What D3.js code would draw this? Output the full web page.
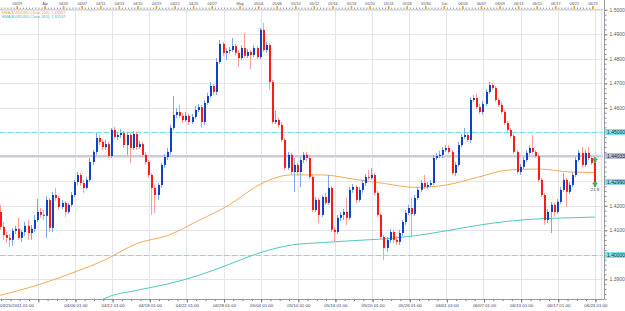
<!DOCTYPE html>
<html>
<head>
<meta charset="utf-8">
<title>EUR/USD H8</title>
<script src="https://cdn.jsdelivr.net/npm/d3@7/dist/d3.min.js"></script>
<style>
  body { margin: 0; background: #fff; }
  svg { display: block; font-family: "Liberation Sans", Arial, sans-serif; }
</style>
</head>
<body>
<svg id="chart" width="625" height="311"></svg>
<script>
// EUR/USD 8h bars. bar 0 = 03/23 01:00, first visible bar is 6 (03/25 01:00)
const firstBar = 6;

const opens = [
  1.4175, 1.4114, 1.4081, 1.4069, 1.4061, 1.4098, 1.4106, 1.4069, 1.4093, 1.4118,
  1.4089, 1.4106, 1.4142, 1.4175, 1.4163, 1.4159, 1.4224, 1.4110, 1.4244, 1.4232,
  1.4195, 1.4212, 1.4175, 1.4204, 1.4244, 1.4297, 1.4326, 1.4293, 1.4273, 1.4306,
  1.4379, 1.4420, 1.4477, 1.4461, 1.4440, 1.4452, 1.4403, 1.4510, 1.4481, 1.4489,
  1.4497, 1.4448, 1.4489, 1.4436, 1.4493, 1.4440, 1.4452, 1.4408, 1.4379, 1.4326,
  1.4273, 1.4244, 1.4285, 1.4367, 1.4399, 1.4420, 1.4518, 1.4571, 1.4583, 1.4567,
  1.4550, 1.4567, 1.4542, 1.4563, 1.4591, 1.4603, 1.4542, 1.4620, 1.4648, 1.4689,
  1.4665, 1.4787, 1.4861, 1.4824, 1.4832, 1.4836, 1.4852, 1.4824, 1.4803, 1.4844,
  1.4812, 1.4828, 1.4816, 1.4844, 1.4807, 1.4918, 1.4836, 1.4856, 1.4705, 1.4542,
  1.4550, 1.4530, 1.4469, 1.4355, 1.4408, 1.4338, 1.4367, 1.4338, 1.4387, 1.4408,
  1.4395, 1.4318, 1.4183, 1.4224, 1.4163, 1.4236, 1.4212, 1.4273, 1.4102, 1.4093,
  1.4151, 1.4163, 1.4175, 1.4151, 1.4265, 1.4277, 1.4224, 1.4265, 1.4293, 1.4318,
  1.4314, 1.4326, 1.4253, 1.4163, 1.4073, 1.4028, 1.4061, 1.4093, 1.4061, 1.4053,
  1.4089, 1.4134, 1.4171, 1.4191, 1.4167, 1.4232, 1.4265, 1.4293, 1.4277, 1.4285,
  1.4293, 1.4395, 1.4403, 1.4408, 1.4428, 1.4436, 1.4420, 1.4334, 1.4367, 1.4448,
  1.4481, 1.4489, 1.4469, 1.4632, 1.4640, 1.4603, 1.4583, 1.4616, 1.4665, 1.4693,
  1.4681, 1.4632, 1.4612, 1.4583, 1.4538, 1.4510, 1.4485, 1.4420, 1.4338, 1.4359,
  1.4387, 1.4416, 1.4436, 1.4420, 1.4403, 1.4306, 1.4244, 1.4142, 1.4175, 1.4204,
  1.4175, 1.4216, 1.4265, 1.4306, 1.4257, 1.4285, 1.4326, 1.4387, 1.4416, 1.4367,
  1.4416, 1.4395, 1.4375
];
const highs = [
  1.4204, 1.4134, 1.4093, 1.4085, 1.4110, 1.4118, 1.4151, 1.4102, 1.4134, 1.4142,
  1.4122, 1.4163, 1.4228, 1.4191, 1.4183, 1.4240, 1.4232, 1.4257, 1.4273, 1.4240,
  1.4224, 1.4220, 1.4212, 1.4257, 1.4306, 1.4338, 1.4334, 1.4306, 1.4318, 1.4395,
  1.4428, 1.4497, 1.4489, 1.4473, 1.4469, 1.4461, 1.4518, 1.4522, 1.4501, 1.4514,
  1.4505, 1.4501, 1.4497, 1.4505, 1.4501, 1.4465, 1.4461, 1.4420, 1.4387, 1.4334,
  1.4285, 1.4293, 1.4375, 1.4412, 1.4436, 1.4530, 1.4648, 1.4599, 1.4612, 1.4579,
  1.4583, 1.4575, 1.4575, 1.4608, 1.4616, 1.4612, 1.4632, 1.4661, 1.4705, 1.4697,
  1.4803, 1.4877, 1.4869, 1.4844, 1.4848, 1.4885, 1.4861, 1.4836, 1.4856, 1.4905,
  1.4840, 1.4836, 1.4856, 1.4852, 1.4926, 1.4946, 1.4869, 1.4865, 1.4714, 1.4591,
  1.4559, 1.4542, 1.4477, 1.4420, 1.4416, 1.4395, 1.4375, 1.4399, 1.4420, 1.4420,
  1.4408, 1.4326, 1.4236, 1.4232, 1.4244, 1.4253, 1.4326, 1.4281, 1.4114, 1.4163,
  1.4175, 1.4187, 1.4232, 1.4277, 1.4289, 1.4285, 1.4277, 1.4306, 1.4330, 1.4346,
  1.4355, 1.4334, 1.4261, 1.4171, 1.4081, 1.4073, 1.4106, 1.4102, 1.4077, 1.4102,
  1.4142, 1.4183, 1.4204, 1.4232, 1.4244, 1.4277, 1.4306, 1.4326, 1.4297, 1.4306,
  1.4408, 1.4416, 1.4424, 1.4440, 1.4448, 1.4448, 1.4428, 1.4379, 1.4461, 1.4493,
  1.4518, 1.4497, 1.4644, 1.4652, 1.4657, 1.4616, 1.4628, 1.4677, 1.4705, 1.4701,
  1.4689, 1.4640, 1.4624, 1.4591, 1.4546, 1.4518, 1.4493, 1.4428, 1.4371, 1.4399,
  1.4428, 1.4448, 1.4489, 1.4428, 1.4412, 1.4314, 1.4253, 1.4187, 1.4216, 1.4212,
  1.4228, 1.4277, 1.4334, 1.4314, 1.4297, 1.4338, 1.4399, 1.4428, 1.4440, 1.4428,
  1.4440, 1.4408, 1.4387
];
const lows = [
  1.4102, 1.4061, 1.4049, 1.4032, 1.4036, 1.4085, 1.4061, 1.4053, 1.4077, 1.4061,
  1.4061, 1.4093, 1.4134, 1.4151, 1.4142, 1.4069, 1.4093, 1.4093, 1.4220, 1.4183,
  1.4187, 1.4155, 1.4167, 1.4195, 1.4236, 1.4285, 1.4281, 1.4253, 1.4265, 1.4297,
  1.4367, 1.4408, 1.4448, 1.4428, 1.4428, 1.4395, 1.4395, 1.4473, 1.4469, 1.4477,
  1.4436, 1.4408, 1.4375, 1.4428, 1.4428, 1.4432, 1.4399, 1.4367, 1.4314, 1.4163,
  1.4171, 1.4224, 1.4273, 1.4355, 1.4387, 1.4408, 1.4510, 1.4559, 1.4559, 1.4538,
  1.4542, 1.4530, 1.4534, 1.4554, 1.4583, 1.4518, 1.4530, 1.4612, 1.4640, 1.4652,
  1.4652, 1.4779, 1.4812, 1.4795, 1.4820, 1.4828, 1.4812, 1.4767, 1.4795, 1.4803,
  1.4803, 1.4758, 1.4807, 1.4799, 1.4799, 1.4828, 1.4824, 1.4673, 1.4534, 1.4534,
  1.4518, 1.4461, 1.4346, 1.4346, 1.4326, 1.4257, 1.4326, 1.4277, 1.4375, 1.4383,
  1.4310, 1.4175, 1.4175, 1.4130, 1.4155, 1.4204, 1.4204, 1.4093, 1.4053, 1.4085,
  1.4138, 1.4142, 1.4122, 1.4142, 1.4253, 1.4212, 1.4216, 1.4253, 1.4281, 1.4306,
  1.4306, 1.4244, 1.4155, 1.4065, 1.3979, 1.4012, 1.4049, 1.4049, 1.4040, 1.4040,
  1.4077, 1.4122, 1.4163, 1.4073, 1.4159, 1.4224, 1.4257, 1.4269, 1.4269, 1.4277,
  1.4285, 1.4387, 1.4395, 1.4395, 1.4420, 1.4412, 1.4326, 1.4322, 1.4359, 1.4440,
  1.4473, 1.4461, 1.4457, 1.4624, 1.4595, 1.4575, 1.4571, 1.4608, 1.4657, 1.4673,
  1.4624, 1.4603, 1.4575, 1.4530, 1.4501, 1.4477, 1.4412, 1.4330, 1.4326, 1.4350,
  1.4379, 1.4408, 1.4412, 1.4395, 1.4297, 1.4236, 1.4122, 1.4130, 1.4089, 1.4155,
  1.4167, 1.4208, 1.4257, 1.4195, 1.4248, 1.4277, 1.4318, 1.4379, 1.4359, 1.4359,
  1.4387, 1.4367, 1.4289
];
const closes = [
  1.4114, 1.4081, 1.4069, 1.4061, 1.4098, 1.4106, 1.4069, 1.4093, 1.4118, 1.4089,
  1.4106, 1.4142, 1.4175, 1.4163, 1.4159, 1.4224, 1.4110, 1.4244, 1.4232, 1.4195,
  1.4212, 1.4175, 1.4204, 1.4244, 1.4297, 1.4326, 1.4293, 1.4273, 1.4306, 1.4379,
  1.4420, 1.4477, 1.4461, 1.4440, 1.4452, 1.4403, 1.4510, 1.4481, 1.4489, 1.4497,
  1.4448, 1.4489, 1.4436, 1.4493, 1.4440, 1.4452, 1.4408, 1.4379, 1.4326, 1.4273,
  1.4244, 1.4285, 1.4367, 1.4399, 1.4420, 1.4518, 1.4571, 1.4583, 1.4567, 1.4550,
  1.4567, 1.4542, 1.4563, 1.4591, 1.4603, 1.4542, 1.4620, 1.4648, 1.4689, 1.4665,
  1.4787, 1.4861, 1.4824, 1.4832, 1.4836, 1.4852, 1.4824, 1.4803, 1.4844, 1.4812,
  1.4828, 1.4816, 1.4844, 1.4807, 1.4918, 1.4836, 1.4856, 1.4705, 1.4542, 1.4550,
  1.4530, 1.4469, 1.4355, 1.4408, 1.4338, 1.4367, 1.4338, 1.4387, 1.4408, 1.4395,
  1.4318, 1.4183, 1.4224, 1.4163, 1.4236, 1.4212, 1.4273, 1.4102, 1.4093, 1.4151,
  1.4163, 1.4175, 1.4151, 1.4265, 1.4277, 1.4224, 1.4265, 1.4293, 1.4318, 1.4314,
  1.4326, 1.4253, 1.4163, 1.4073, 1.4028, 1.4061, 1.4093, 1.4061, 1.4053, 1.4089,
  1.4134, 1.4171, 1.4191, 1.4167, 1.4232, 1.4265, 1.4293, 1.4277, 1.4285, 1.4293,
  1.4395, 1.4403, 1.4408, 1.4428, 1.4436, 1.4420, 1.4334, 1.4367, 1.4448, 1.4481,
  1.4489, 1.4469, 1.4632, 1.4640, 1.4603, 1.4583, 1.4616, 1.4665, 1.4693, 1.4681,
  1.4632, 1.4612, 1.4583, 1.4538, 1.4510, 1.4485, 1.4420, 1.4338, 1.4359, 1.4387,
  1.4416, 1.4436, 1.4420, 1.4403, 1.4306, 1.4244, 1.4142, 1.4175, 1.4204, 1.4175,
  1.4216, 1.4265, 1.4306, 1.4257, 1.4285, 1.4326, 1.4387, 1.4416, 1.4367, 1.4416,
  1.4395, 1.4375, 1.4297
];

// moving averages at these bars
const ema100Bars = [5, 10, 20, 30, 40, 50, 60, 70, 80, 90, 100, 110, 120, 130, 140, 150, 160, 170, 180, 190, 198];
const ema100 = [1.3832, 1.3848, 1.3885, 1.3930, 1.3981, 1.4046, 1.4079, 1.4140, 1.4205, 1.4289, 1.4326,
  1.4326, 1.4309, 1.4291, 1.4275, 1.4285, 1.4316, 1.4346, 1.4350, 1.4338, 1.4336];
const ema365Bars = [38, 40, 50, 60, 70, 80, 90, 100, 110, 120, 130, 140, 150, 160, 170, 180, 190, 198];
const ema365 = [1.3811, 1.3824, 1.3855, 1.3881, 1.3916, 1.3962, 1.4009, 1.4040, 1.4050, 1.4058, 1.4065,
  1.4078, 1.4098, 1.4120, 1.4137, 1.4147, 1.4151, 1.4154];

const priceTicks = [1.39, 1.40, 1.41, 1.42, 1.43, 1.44, 1.45, 1.46, 1.47, 1.48, 1.49, 1.50];

const gridBars = [18, 30, 42, 54, 66, 78, 90, 102, 114, 126, 138, 150, 162, 174, 186, 198];
const bottomLabels = ["", "04/06 01:00", "04/12 01:00", "04/18 01:00", "04/22 01:00", "04/28 01:00",
  "05/04 01:00", "05/10 01:00", "05/16 01:00", "05/20 01:00", "05/26 01:00", "06/01 01:00",
  "06/07 01:00", "06/13 01:00", "06/17 01:00", "06/23 01:00"];
const firstLabel = "03/25/2011 01:00";

const topBars = [12, 21, 27, 33, 39, 45, 51, 57, 63, 69, 75, 84, 90, 96, 102, 108, 114, 120, 126,
  132, 138, 144, 150, 156, 162, 168, 174, 180, 186, 192, 198];
const topLabels = ["03/29", "Apr", "04/05", "04/07", "04/11", "04/13", "04/15", "04/19", "04/21",
  "04/25", "04/27", "May", "05/04", "05/06", "05/10", "05/12", "05/16", "05/18", "05/20", "05/24",
  "05/26", "05/30", "Jun", "06/03", "06/07", "06/09", "06/13", "06/15", "06/17", "06/21", "06/23"];

const dashedLevels = [1.45, 1.40];
const grayLevel = 1.4403;
const markerPrices = [1.45, 1.4403, 1.4299, 1.40];
const markerTexts = ["1.45000", "1.44033", "1.42990", "1.40000"];
const arrowPrices = [1.4386, 1.4288];
const timerText = "21.9";

const legendTexts = ["EMA(EUR/USD.Close,100): 1.43361", "EMA(EUR/USD.Close,365): 1.41537"];

// ---- layout
const plotL = 0, plotR = 603, plotT = 9, plotB = 299;
const svg = d3.select("#chart");

const x = d3.scaleLinear().domain([0, 198]).range([-17.9, 594.9]);
const y = d3.scaleLinear().domain([1.39, 1.50]).range([279.3, 9.8]);
const px = v => Math.round(v) + 0.5;

svg.append("rect").attr("width", 625).attr("height", 311).attr("fill", "#fff");

svg.append("defs").append("clipPath").attr("id", "plotClip")
  .append("rect").attr("x", plotL).attr("y", plotT).attr("width", plotR - plotL).attr("height", plotB - plotT);

// grid
const grid = svg.append("g").attr("stroke", "#e4e4ea").attr("stroke-width", 1);
grid.selectAll("line.h").data(priceTicks).join("line").attr("class", "h")
  .attr("x1", plotL).attr("x2", plotR)
  .attr("y1", d => px(y(d))).attr("y2", d => px(y(d)));
grid.selectAll("line.v").data(gridBars).join("line").attr("class", "v")
  .attr("x1", d => px(x(d))).attr("x2", d => px(x(d)))
  .attr("y1", plotT).attr("y2", plotB);

// level lines
svg.append("g").selectAll("line").data(dashedLevels).join("line")
  .attr("x1", plotL).attr("x2", plotR)
  .attr("y1", d => px(y(d))).attr("y2", d => px(y(d)))
  .attr("stroke", "#6fe3ea").attr("stroke-dasharray", "5,3");
svg.append("line")
  .attr("x1", plotL).attr("x2", plotR)
  .attr("y1", y(grayLevel)).attr("y2", y(grayLevel))
  .attr("stroke", "#cbcbdc").attr("stroke-width", 2);

const plot = svg.append("g").attr("clip-path", "url(#plotClip)");

// moving averages
const line = d3.line().x(d => x(d[0])).y(d => y(d[1])).curve(d3.curveMonotoneX);
plot.append("path").datum(d3.zip(ema100Bars, ema100))
  .attr("d", line).attr("fill", "none").attr("stroke", "#f6a953").attr("stroke-width", 1);
plot.append("path").datum(d3.zip(ema365Bars, ema365))
  .attr("d", line).attr("fill", "none").attr("stroke", "#4ec9c4").attr("stroke-width", 1);

// candles
const bars = closes.map((c, k) => ({ bar: firstBar + k, o: opens[k], h: highs[k], l: lows[k], c: c }));
const up = d => d.c >= d.o;

plot.selectAll("line.wick").data(bars).join("line").attr("class", "wick")
  .attr("x1", d => Math.round(x(d.bar)) - 0.5).attr("x2", d => Math.round(x(d.bar)) - 0.5)
  .attr("y1", d => y(Math.max(d.h, d.o, d.c))).attr("y2", d => y(Math.min(d.l, d.o, d.c)))
  .attr("stroke", d => up(d) ? "#7fa8e4" : "#ff9d9d");

plot.selectAll("rect.body").data(bars).join("rect").attr("class", "body")
  .attr("x", d => Math.round(x(d.bar)) - 1)
  .attr("width", 2)
  .attr("y", d => y(Math.max(d.o, d.c)))
  .attr("height", d => Math.max(1, Math.abs(y(d.o) - y(d.c))))
  .attr("fill", d => up(d) ? "#0f42c8" : "#ff1a1a");

// trade arrows + timer at the last bar
const lastBar = firstBar + closes.length - 1;
svg.append("g").selectAll("path").data(arrowPrices).join("path")
  .attr("transform", d => `translate(${Math.round(x(lastBar))},${Math.round(y(d))})`)
  .attr("d", "M0,-3 L2.5,0 L1,0 L1,2.5 L-1,2.5 L-1,0 L-2.5,0 Z")
  .attr("fill", "#45b845").attr("stroke", "#2a7a2a").attr("stroke-width", 0.4);
svg.append("text")
  .attr("x", x(lastBar)).attr("y", y(arrowPrices[1]) + 7)
  .attr("text-anchor", "middle").attr("font-size", 4.2).attr("fill", "#333")
  .text(timerText);

// legend
svg.append("g").selectAll("text").data(legendTexts).join("text")
  .attr("x", 2).attr("y", (d, i) => 13.5 + i * 4.8)
  .attr("font-size", 3.9)
  .attr("fill", (d, i) => i === 0 ? "#f0a040" : "#3cbcbc")
  .text(d => d);

// right price axis
const yAxisG = svg.append("g").attr("transform", `translate(${plotR + 1},0)`);
yAxisG.append("line").attr("x1", 0.5).attr("x2", 0.5).attr("y1", 0).attr("y2", plotB)
  .attr("stroke", "#9a9aa6");
svg.append("line").attr("x1", plotR - 1.5).attr("x2", plotR - 1.5).attr("y1", plotT).attr("y2", plotB)
  .attr("stroke", "#e0e0e6");
const minorPrices = d3.range(1.382, 1.5005, 0.002);
yAxisG.append("g").attr("transform", "translate(0.5,0)")
  .call(d3.axisRight(y).tickValues(minorPrices).tickSize(2).tickFormat(""))
  .call(g => g.select(".domain").remove())
  .call(g => g.selectAll("line").attr("stroke", "#8a8a96"));
// tick labels hidden where an axis marker sits on top of them
const priceFmt = d3.format(".4f");
const coveredByMarker = d => markerPrices.some(m => Math.abs(y(m) - y(d)) < 6);
yAxisG.append("g").attr("transform", "translate(0.5,0)")
  .call(d3.axisRight(y).tickValues(priceTicks).tickSize(3).tickPadding(2)
    .tickFormat(d => coveredByMarker(d) ? "" : priceFmt(d)))
  .call(g => g.select(".domain").remove())
  .call(g => g.selectAll("line").attr("stroke", "#8a8a96"))
  .call(g => g.selectAll("text").attr("font-size", 5).attr("fill", "#555a66").attr("font-family", null));

// price markers on the axis
const markerFill = ["#7fe6ec", "#babfd6", "#8fd6ec", "#7fe6ec"];
const markers = svg.append("g").selectAll("g").data(markerPrices).join("g")
  .attr("transform", d => `translate(${plotR + 2},${Math.round(y(d))})`);
markers.append("rect").attr("x", 0).attr("y", -3).attr("width", 20).attr("height", 6)
  .attr("fill", (d, i) => markerFill[i]);
markers.append("text").attr("x", 2).attr("y", 1.8).attr("font-size", 5).attr("fill", "#223")
  .text((d, i) => markerTexts[i]);

// bottom time axis
const xAxisG = svg.append("g").attr("transform", `translate(0,${plotB})`);
xAxisG.append("line").attr("x1", 0).attr("x2", plotR + 1).attr("y1", 0.5).attr("y2", 0.5).attr("stroke", "#9a9aa6");
xAxisG.append("g").attr("transform", "translate(0.5,0.5)")
  .call(d3.axisBottom(x).tickValues(d3.range(firstBar, lastBar + 1, 3)).tickSize(1.5).tickFormat(""))
  .call(g => g.select(".domain").remove())
  .call(g => g.selectAll("line").attr("stroke", "#777"));
xAxisG.append("g").attr("transform", "translate(0.5,0.5)")
  .call(d3.axisBottom(x).tickValues(gridBars).tickSize(3).tickPadding(1.5)
    .tickFormat((d, i) => bottomLabels[i]))
  .call(g => g.select(".domain").remove())
  .call(g => g.selectAll("line").attr("stroke", "#777"))
  .call(g => g.selectAll("text").attr("font-size", 4.4).attr("fill", "#3a4060").attr("font-family", null));
xAxisG.append("text").attr("x", 0).attr("y", 7.6).attr("font-size", 4.4).attr("fill", "#3a4060")
  .text(firstLabel);

// top date ruler
const ruler = svg.append("g").attr("transform", `translate(-2.5,${plotT})`);
svg.append("line").attr("x1", 0).attr("x2", plotR).attr("y1", plotT + 0.5).attr("y2", plotT + 0.5)
  .attr("stroke", "#d4d4dc");
ruler.append("g")
  .call(d3.axisTop(x).tickValues(d3.range(firstBar, lastBar + 1)).tickSize(1.5).tickFormat(""))
  .call(g => g.select(".domain").remove())
  .call(g => g.selectAll("line").attr("stroke", "#9a9aa6"));
ruler.append("g")
  .call(d3.axisTop(x).tickValues(topBars).tickSize(3).tickPadding(1).tickFormat((d, i) => topLabels[i]))
  .call(g => g.select(".domain").remove())
  .call(g => g.selectAll("line").attr("stroke", "#f2a31b").attr("stroke-width", 1.6))
  .call(g => g.selectAll("text").attr("font-size", 3.8).attr("fill", "#4a5070").attr("font-family", null));
</script>
</body>
</html>
